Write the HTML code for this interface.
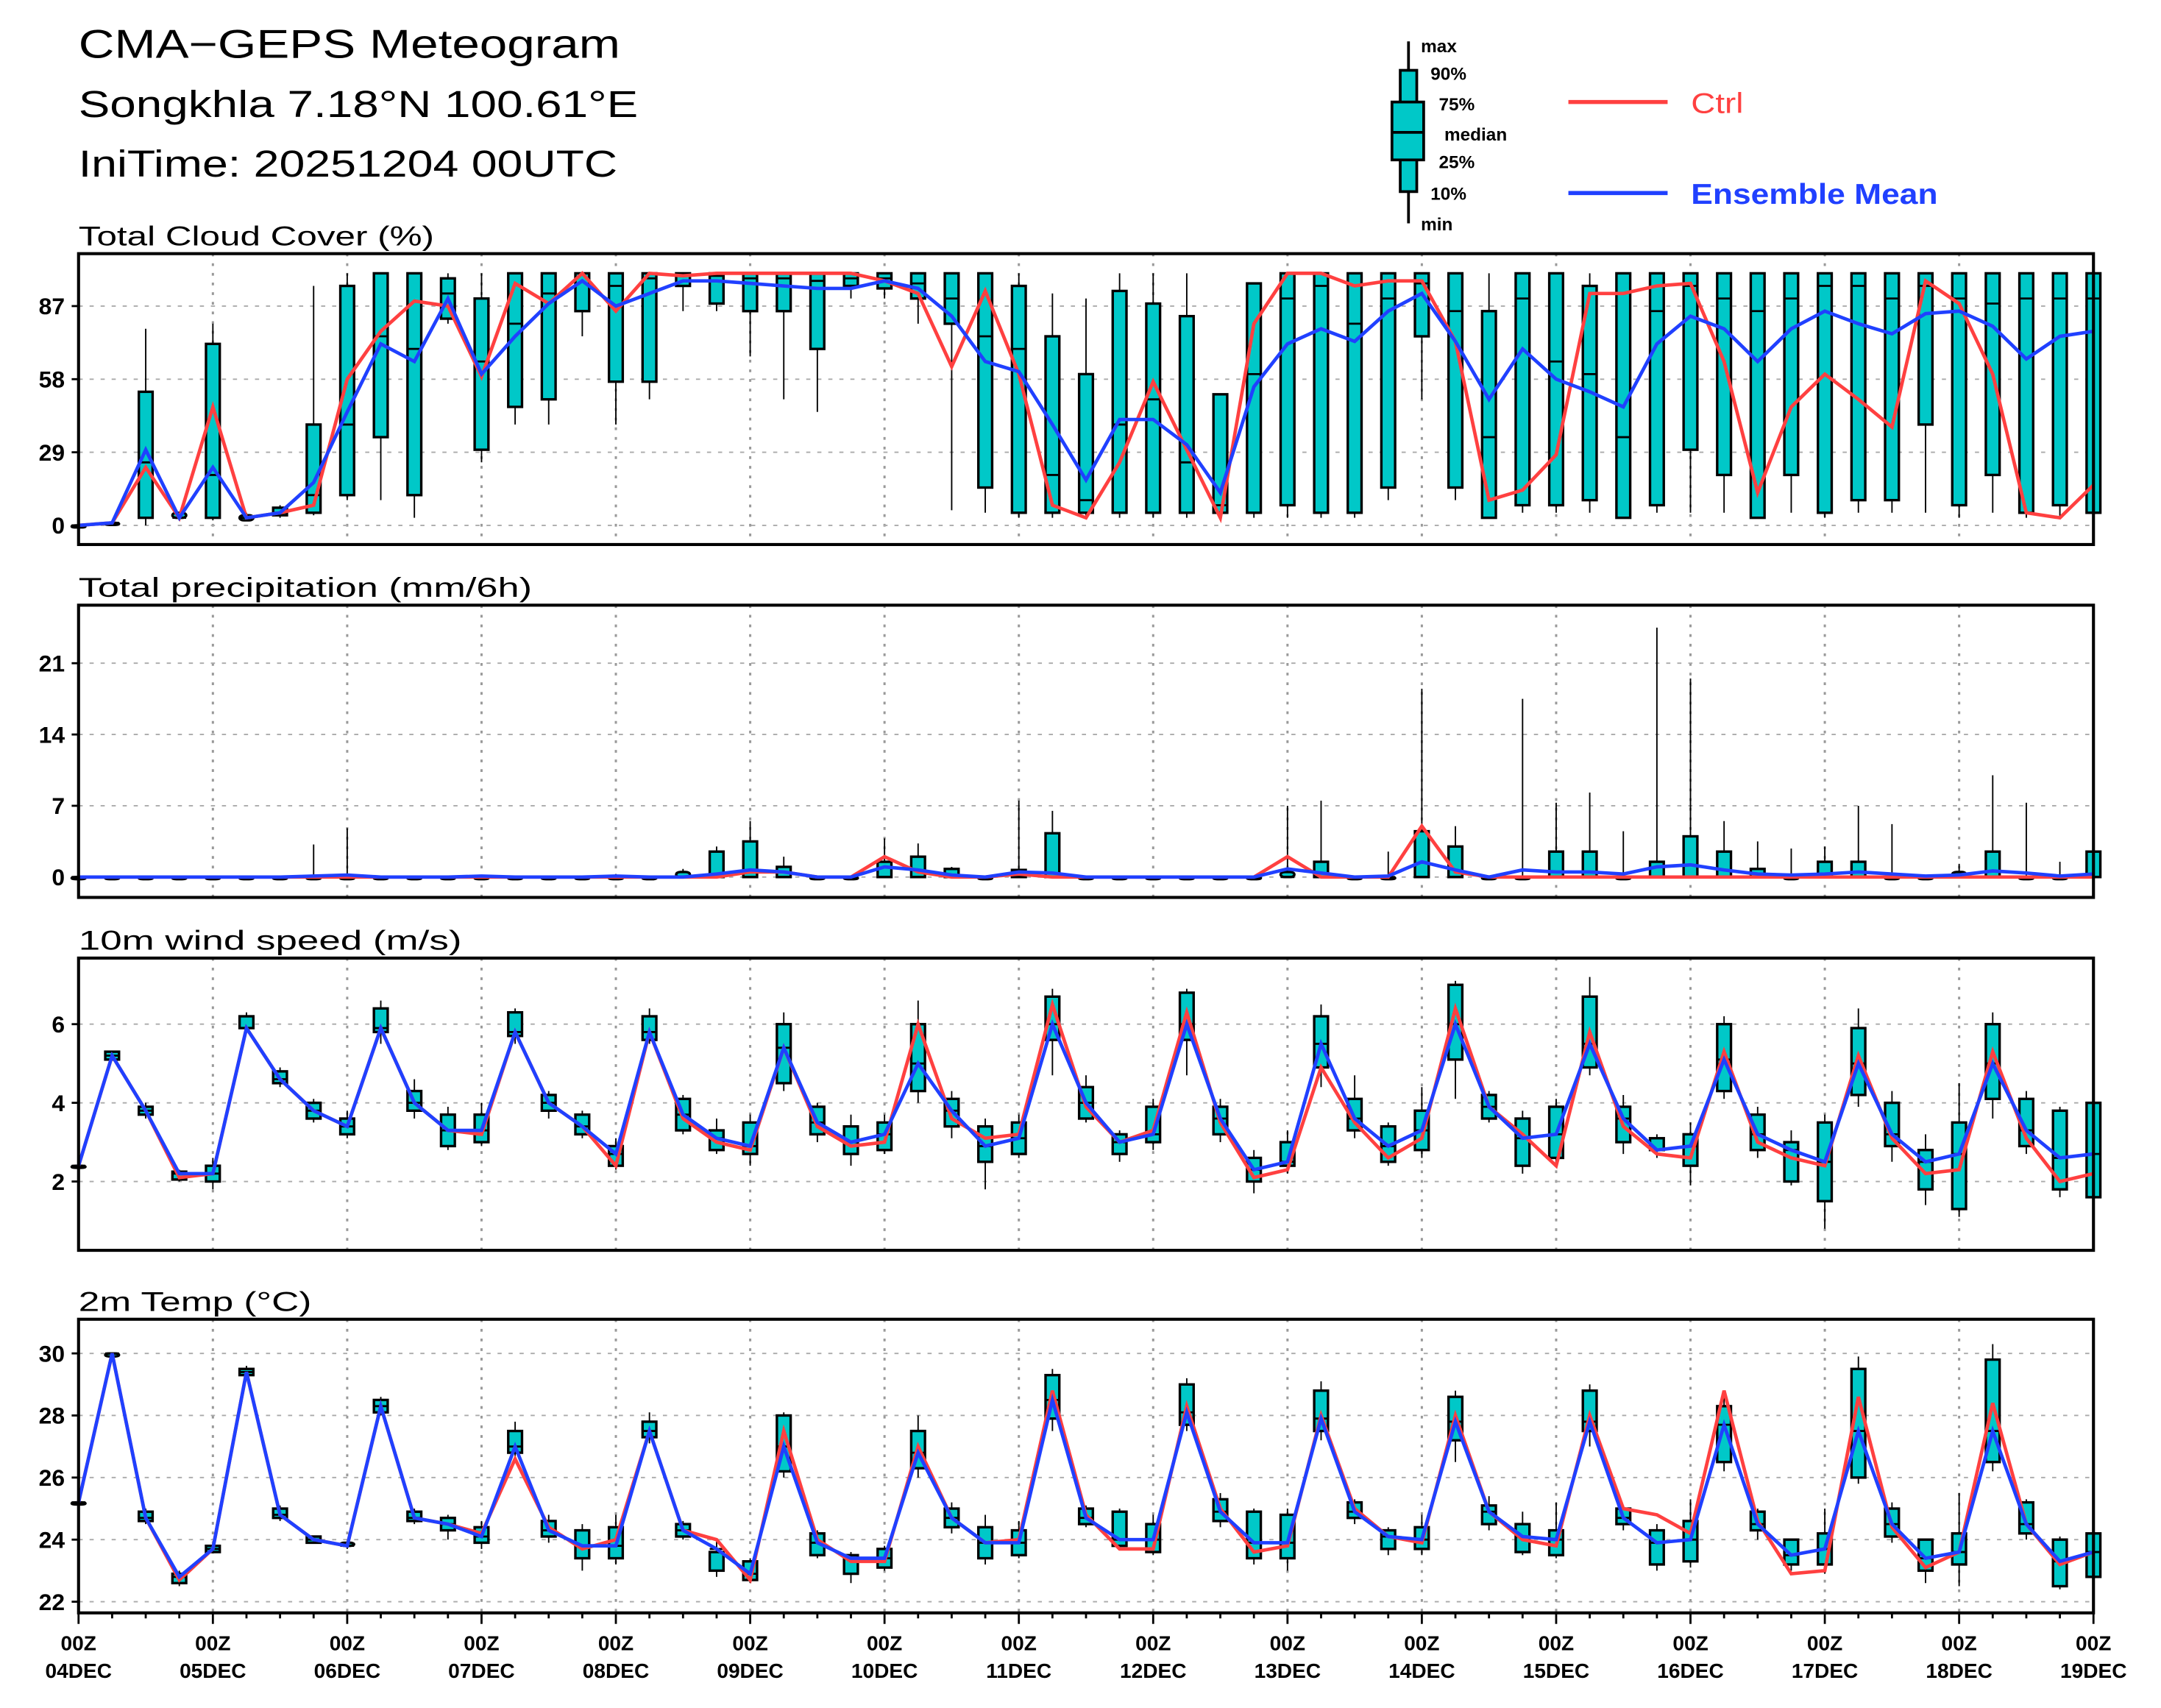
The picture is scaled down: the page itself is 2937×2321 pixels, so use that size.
<!DOCTYPE html>
<html><head><meta charset="utf-8"><style>html,body{margin:0;padding:0;background:#fff}svg{display:block}</style></head>
<body>
<svg id="chart" width="2937" height="2321" viewBox="0 0 1568 1239" preserveAspectRatio="none" xmlns="http://www.w3.org/2000/svg" font-family="Liberation Sans, DejaVu Sans, sans-serif">
<text x="57" y="42" font-size="29" textLength="393" lengthAdjust="spacingAndGlyphs">CMA−GEPS Meteogram</text>
<text x="57" y="85" font-size="27" textLength="406" lengthAdjust="spacingAndGlyphs">Songkhla 7.18°N 100.61°E</text>
<text x="57" y="128" font-size="27" textLength="391" lengthAdjust="spacingAndGlyphs">IniTime: 20251204 00UTC</text>
<g>
<line x1="1022" y1="30" x2="1022" y2="162" stroke="#000" stroke-width="2"/>
<rect x="1016" y="51" width="12" height="88" fill="#00c8c8" stroke="#000" stroke-width="2"/>
<rect x="1010" y="74" width="23" height="42" fill="#00c8c8" stroke="#000" stroke-width="2"/>
<line x1="1010" y1="96" x2="1033" y2="96" stroke="#000" stroke-width="2"/>
<g font-size="13" font-weight="bold">
<text x="1031" y="38">max</text><text x="1038" y="58">90%</text><text x="1044" y="80">75%</text><text x="1048" y="102">median</text><text x="1044" y="122">25%</text><text x="1038" y="145">10%</text><text x="1031" y="167">min</text></g>
<line x1="1138" y1="74" x2="1210" y2="74" stroke="#ff4040" stroke-width="3"/>
<text x="1227" y="82" font-size="21" fill="#ff4040" textLength="38" lengthAdjust="spacingAndGlyphs">Ctrl</text>
<line x1="1138" y1="140" x2="1210" y2="140" stroke="#2040ff" stroke-width="3"/>
<text x="1227" y="148" font-size="21" fill="#2040ff" font-weight="bold" textLength="179" lengthAdjust="spacingAndGlyphs">Ensemble Mean</text>
</g>
<g id="plots"></g>
</svg>
<script>
// Cloud cover
const cCtrl=[0,1,23,3,47,3,5,8,58,77,89,87,59,96,88,100,85,100,99,100,100,100,100,100,97,92,63,93,60,8,3,25,57,30,3,80,100,100,95,97,97,73,10,14,28,92,92,95,96,65,13,47,60,50,39,97,88,60,5,3,16];
const cMean=[0,1,30,3,23,3,5,17,45,72,65,90,60,75,88,97,87,92,97,97,96,95,94,94,97,94,83,65,61,40,18,42,42,32,13,55,72,78,73,85,92,73,50,70,58,53,47,72,83,78,65,78,85,80,76,84,85,79,66,75,77];
const cQ1=[0,1,3,3,3,2,4,5,12,35,12,82,30,47,50,85,57,57,95,88,85,85,70,95,94,90,80,15,5,5,5,5,5,5,5,5,8,5,5,15,75,15,3,8,8,10,3,8,30,20,3,20,5,10,10,40,8,20,5,8,5];
const cQ3=[0,1,53,5,72,4,7,40,95,100,100,98,90,100,100,100,100,100,100,100,100,100,100,100,100,100,100,100,95,75,60,93,88,83,52,96,100,100,100,100,100,100,85,100,100,95,100,100,100,100,100,100,100,100,100,100,100,100,100,100,100];
const cMed=[0,1,25,3,20,3,5,12,40,75,70,92,65,80,92,100,95,98,100,99,98,98,97,98,98,96,90,75,70,20,10,40,50,25,8,60,90,95,80,90,96,85,35,90,65,60,35,85,95,90,85,90,95,95,90,95,90,88,90,90,90];
const cMin=[0,1,0,2,2,2,3,4,10,10,3,80,25,40,40,75,40,50,85,85,67,50,45,90,90,80,6,5,3,3,3,3,3,3,3,3,3,3,3,10,50,10,3,5,5,5,3,5,5,5,3,5,3,5,5,5,3,5,3,3,3];
const cMax=[0,1,78,5,80,5,8,95,100,100,100,100,100,100,100,100,100,100,100,100,100,100,100,100,100,100,100,100,100,92,90,100,100,100,52,96,100,100,100,100,100,100,100,100,100,100,100,100,100,100,100,100,100,100,100,100,100,100,100,100,100];
const cTicks=[0,29,58,87];
// Precipitation
const pCtrl=[0,0,0,0,0,0,0,0,0,0,0,0,0,0,0,0,0,0,0,0,0.5,0.5,0,0,2,0.5,0,0,0.3,0,0,0,0,0,0,0,2,0,0,0,5,0.5,0,0,0,0,0,0,0,0,0,0,0,0,0,0,0,0,0,0,0];
const pMean=[0,0,0,0,0,0,0,0.1,0.2,0,0,0,0.1,0,0,0,0.1,0,0,0.3,0.7,0.5,0,0,1,0.7,0.2,0,0.5,0.4,0,0,0,0,0,0,0.8,0.4,0,0.1,1.5,0.7,0,0.7,0.5,0.5,0.3,1,1.2,0.7,0.3,0.2,0.3,0.5,0.3,0.1,0.2,0.6,0.4,0.1,0.3];
const pQ3=[0,0,0,0,0,0,0,0,0,0,0,0,0,0,0,0,0,0,0.5,2.5,3.5,1,0,0,1.5,2,0.8,0,0.7,4.3,0,0,0,0,0,0,0.5,1.5,0,0,4.5,3,0,0,2.5,2.5,0,1.5,4,2.5,0.8,0,1.5,1.5,0,0,0.5,2.5,0,0,2.5];
const pMax=[0,0,0,0,0,0,0,3.2,4.8,0,0,0,0.2,0,0,0,0.3,0,0.8,3,5.5,2,0,0,3.8,3.3,1,0,7.5,6.5,0,0,0,0,0,0,7,7.5,0,2.5,18.5,5,0,17.5,7.3,8.3,4.5,24.5,19.5,5.5,3.5,2.8,3,7,5.2,0,1.3,10,7.3,1.5,2.7];
const pTicks=[0,7,14,21];
// Wind
const wCtrl=[2.4,5.2,3.8,2.1,2.2,5.9,4.6,3.8,3.4,5.9,4.0,3.3,3.2,5.8,4.0,3.4,2.4,5.8,3.6,3.0,2.8,5.4,3.4,2.9,3.0,6.0,3.6,3.1,3.2,6.5,3.9,3.0,3.3,6.3,3.5,2.1,2.3,4.9,3.5,2.6,3.1,6.4,3.9,3.2,2.4,5.8,3.4,2.7,2.6,5.3,3.0,2.6,2.4,5.2,3.1,2.2,2.3,5.3,3.1,2.0,2.2];
const wMean=[2.4,5.2,3.8,2.2,2.2,5.9,4.6,3.8,3.4,5.9,4.0,3.3,3.3,5.8,4.0,3.4,2.7,5.8,3.7,3.1,2.9,5.4,3.5,3.0,3.2,5.0,3.8,2.9,3.1,6.0,4.0,3.0,3.2,6.0,3.6,2.3,2.5,5.5,3.6,2.9,3.3,6.0,3.9,3.1,3.2,5.5,3.6,2.8,2.9,5.1,3.2,2.8,2.5,5.0,3.2,2.5,2.7,5.0,3.3,2.6,2.7];
const wQ1=[2.4,5.1,3.7,2.05,2.0,5.9,4.5,3.6,3.2,5.8,3.8,2.9,3.0,5.7,3.8,3.2,2.4,5.6,3.3,2.8,2.7,4.5,3.2,2.7,2.8,4.3,3.4,2.5,2.7,5.6,3.6,2.7,3.0,5.6,3.2,2.0,2.4,4.9,3.3,2.5,2.8,5.1,3.6,2.4,2.6,4.9,3.0,2.8,2.4,4.3,2.8,2.0,1.5,4.2,2.9,1.8,1.3,4.1,2.9,1.8,1.6];
const wQ3=[2.4,5.3,3.9,2.25,2.4,6.2,4.8,4.0,3.6,6.4,4.3,3.7,3.7,6.3,4.2,3.7,2.9,6.2,4.1,3.3,3.5,6.0,3.9,3.4,3.5,6.0,4.1,3.4,3.5,6.7,4.4,3.2,3.9,6.8,3.9,2.6,3.0,6.2,4.1,3.4,3.8,7.0,4.2,3.6,3.9,6.7,3.9,3.1,3.2,6.0,3.7,3.0,3.5,5.9,4.0,2.8,3.5,6.0,4.1,3.8,4.0];
const wMin=[2.4,5.1,3.6,2.0,1.8,5.8,4.4,3.5,3.1,5.5,3.6,2.8,2.9,5.5,3.6,3.1,2.3,5.5,3.2,2.7,2.4,4.3,3.0,2.4,2.7,4.0,3.1,1.8,2.6,4.7,3.5,2.5,2.8,4.7,3.0,1.7,2.2,4.4,3.1,2.4,2.6,4.1,3.5,2.2,2.4,4.7,2.7,2.6,1.9,4.1,2.6,1.9,0.8,3.9,2.5,1.4,1.1,3.6,2.7,1.6,1.5];
const wMax=[2.4,5.3,4.0,2.3,2.6,6.3,4.9,4.1,3.8,6.6,4.6,3.9,4.0,6.4,4.3,3.8,3.1,6.4,4.2,3.6,3.7,6.3,4.0,3.7,3.7,6.6,4.3,3.6,3.7,6.9,4.7,3.3,4.1,6.9,4.1,2.8,3.3,6.5,4.7,3.5,4.4,7.1,4.3,3.8,4.1,7.2,4.2,3.2,3.5,6.2,3.9,3.3,3.7,6.4,4.3,3.2,4.5,6.3,4.3,3.9,4.2];
const wTicks=[2,4,6];
// Temperature
const tCtrl=[25.2,30,24.7,22.7,23.7,29.4,24.8,24.0,23.8,28.3,24.7,24.5,24.2,26.6,24.4,23.7,24.0,27.5,24.3,24.0,22.7,27.5,24.0,23.3,23.3,27.0,24.7,23.9,24.0,28.8,24.8,23.7,23.7,28.3,25.0,23.6,23.8,28.0,25.0,24.1,23.9,28.0,24.9,24.0,23.8,28.0,25.0,24.8,24.2,28.8,24.6,22.9,23.0,28.6,24.4,23.1,23.6,28.4,24.5,23.2,23.6];
const tMean=[25.2,30,24.7,22.8,23.7,29.4,24.8,24.0,23.8,28.3,24.7,24.5,24.1,27.0,24.3,23.8,23.8,27.5,24.3,23.7,22.9,27.0,23.9,23.4,23.4,26.8,24.7,23.9,23.9,28.5,24.7,24.0,24.0,28.1,24.9,23.9,23.9,27.9,24.9,24.1,24.0,27.8,24.9,24.1,24.0,27.8,24.7,23.9,24.0,27.7,24.5,23.5,23.7,27.5,24.5,23.4,23.6,27.5,24.5,23.3,23.6];
const tQ1=[25.2,29.9,24.6,22.6,23.6,29.3,24.7,23.9,23.8,28.1,24.6,24.3,23.9,26.8,24.1,23.4,23.4,27.3,24.1,23.0,22.7,26.2,23.5,22.9,23.1,26.3,24.4,23.4,23.5,27.9,24.5,23.8,23.6,27.7,24.6,23.4,23.4,27.5,24.7,23.7,23.7,27.2,24.5,23.6,23.5,27.5,24.5,23.2,23.3,26.5,24.3,23.2,23.2,26.0,24.1,23.0,23.2,26.5,24.2,22.5,22.8];
const tQ3=[25.2,30.0,24.9,22.9,23.8,29.5,25.0,24.1,23.9,28.5,24.9,24.7,24.4,27.5,24.6,24.3,24.4,27.8,24.5,23.6,23.3,28.0,24.2,23.5,23.7,27.5,25.0,24.4,24.3,29.3,25.0,24.9,24.5,29.0,25.3,24.9,24.8,28.8,25.2,24.3,24.4,28.6,25.1,24.5,24.3,28.8,25.0,24.3,24.6,28.3,24.9,24.0,24.2,29.5,25.0,24.0,24.2,29.8,25.2,24.0,24.2];
const tMin=[25.2,29.9,24.5,22.5,23.6,29.2,24.6,23.9,23.7,28.0,24.5,24.0,23.7,26.5,23.9,23.0,23.2,27.1,24.0,22.8,22.6,26.0,23.4,22.6,23.0,26.0,24.2,23.2,23.4,27.5,24.4,23.7,23.5,27.5,24.4,23.2,23.0,27.2,24.5,23.5,23.5,26.5,24.3,23.5,23.4,27.0,24.3,23.0,23.1,26.2,24.0,23.0,22.9,25.8,23.9,22.6,22.5,26.2,24.0,22.4,22.7];
const tMax=[25.2,30.0,25.0,23.0,23.8,29.6,25.1,24.1,23.9,28.6,25.0,24.8,24.6,27.8,24.8,24.5,24.8,28.1,24.6,24.0,23.4,28.1,24.3,23.6,23.8,28.0,25.2,24.8,24.6,29.5,25.1,25.0,24.8,29.2,25.5,25.0,25.0,29.1,25.3,24.4,24.8,28.8,25.4,24.9,25.2,29.0,25.1,24.5,25.3,28.8,25.0,24.0,25.0,29.9,25.2,24.0,25.5,30.3,25.3,24.1,24.3];
const tTicks=[22,24,26,28,30];
const dayLabels=["04DEC","05DEC","06DEC","07DEC","08DEC","09DEC","10DEC","11DEC","12DEC","13DEC","14DEC","15DEC","16DEC","17DEC","18DEC","19DEC"];

const NS="http://www.w3.org/2000/svg";
const root=document.getElementById('plots');
const X0=57,X1=1519,NSTEP=60;
function xs(i){return X0+(X1-X0)*i/NSTEP;}
function mk(tag,attrs,parent){const e=document.createElementNS(NS,tag);for(const k in attrs)e.setAttribute(k,attrs[k]);(parent||root).appendChild(e);return e;}
function panel(name,title,tlen,top,bot,vmin,vmax,ticks,d){
  const g=mk('g',{});
  
  
  const ys=v=>bot-(v-vmin)/(vmax-vmin)*(bot-top);
  const t=mk('text',{x:57,y:top-6,'font-size':20,textLength:tlen,lengthAdjust:'spacingAndGlyphs'},g);t.textContent=title;
  
  
  for(let dd=1;dd<15;dd++){const l=mk('line',{x1:xs(dd*4),x2:xs(dd*4),y1:top,y2:bot,stroke:'#999','stroke-width':1.6,'stroke-dasharray':'2,5'},g);
    
    }
  ticks.forEach(v=>{const y=ys(v);
    const l=mk('line',{x1:X0,x2:X1,y1:y,y2:y,stroke:'#aaa','stroke-width':1,'stroke-dasharray':'3,5'},g);
    
    
    mk('line',{x1:X0-5,x2:X0,y1:y,y2:y,stroke:'#000','stroke-width':1.5},g);
    const tx=mk('text',{x:X0-10,y:y+6,'font-size':17,'font-weight':'bold','text-anchor':'end'},g);tx.textContent=v;
    
    });
  for(let i=0;i<=NSTEP;i++){
    const x=xs(i);
    const w=mk('line',{x1:x,x2:x,y1:ys(d.max[i]),y2:ys(d.min[i]),stroke:'#000','stroke-width':1},g);
    
    
    const y1=ys(d.q3[i]),y2=ys(d.q1[i]);
    const b=mk('rect',{x:x-5,y:y1,width:10,height:Math.max(y2-y1,1.5),fill:'#00c8c8',stroke:'#000','stroke-width':1.8,rx:(y2-y1<4?3:0)},g);
    
    
    const m=mk('line',{x1:x-5,x2:x+5,y1:ys(d.med[i]),y2:ys(d.med[i]),stroke:'#000','stroke-width':1.5},g);
    
    
  }
  const pc=mk('polyline',{points:d.ctrl.map((v,i)=>xs(i)+','+ys(v)).join(' '),fill:'none',stroke:'#ff4040','stroke-width':2.5},g);
  
  
  const pm=mk('polyline',{points:d.mean.map((v,i)=>xs(i)+','+ys(v)).join(' '),fill:'none',stroke:'#2040ff','stroke-width':2.5},g);
  
  
  const fr=mk('rect',{x:X0,y:top,width:X1-X0,height:bot-top,fill:'none',stroke:'#000','stroke-width':2.2},g);
  
  
  return g;
}
panel('cloud','Total Cloud Cover (%)',258,184,395,-7.6,107.8,cTicks,{ctrl:cCtrl,mean:cMean,q1:cQ1,q3:cQ3,med:cMed,min:cMin,max:cMax});
panel('precip','Total precipitation (mm/6h)',329,439,651,-2.0,26.7,pTicks,{ctrl:pCtrl,mean:pMean,q1:pCtrl.map(()=>0),q3:pQ3,med:pCtrl.map(()=>0),min:pCtrl.map(()=>0),max:pMax});
panel('wind','10m wind speed (m/s)',278,695,907,0.25,7.68,wTicks,{ctrl:wCtrl,mean:wMean,q1:wQ1,q3:wQ3,med:wMean,min:wMin,max:wMax});
panel('temp','2m Temp (°C)',169,957,1170,21.64,31.1,tTicks,{ctrl:tCtrl,mean:tMean,q1:tQ1,q3:tQ3,med:tMean,min:tMin,max:tMax});
for(let i=0;i<=NSTEP;i++){const x=xs(i);mk('line',{x1:x,x2:x,y1:1170,y2:i%4==0?1178:1174,stroke:'#000','stroke-width':1.5});}
dayLabels.forEach((lab,k)=>{const x=xs(k*4);
  const a=mk('text',{x:x,y:1197,'font-size':15,'font-weight':'bold','text-anchor':'middle'});a.textContent='00Z';
  
  
  const b=mk('text',{x:x,y:1217,'font-size':15,'font-weight':'bold','text-anchor':'middle'});b.textContent=lab;
  
  });
</script>
</body></html>
